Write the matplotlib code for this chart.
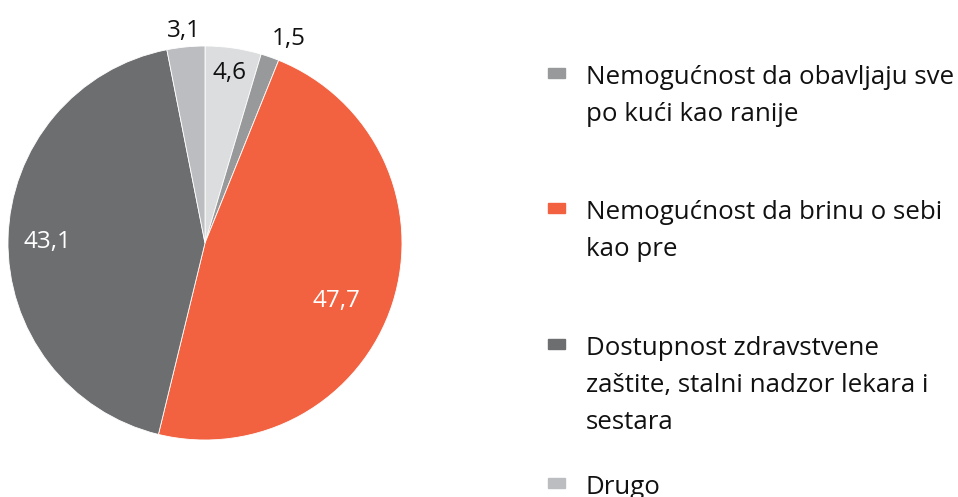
import numpy as np
import matplotlib
matplotlib.use("Agg")
import matplotlib.pyplot as plt
from matplotlib.patches import Rectangle

plt.rcParams['font.family'] = ['Open Sans', 'DejaVu Sans']

# data, clockwise from the top
values = [4.6, 1.5, 47.7, 43.1, 3.1]
value_labels = ['4,6', '1,5', '47,7', '43,1', '3,1']
colors = ['#dcdddf', '#98999b', '#f26241', '#6d6e70', '#bcbdc0']
text_colors = ['#111111', '#111111', 'white', 'white', '#111111']
# label radius and angle nudge (degrees) per slice
label_r = [0.87, 1.12, 0.73, 0.80, 1.08]
label_da = [0, -3, -6, 1, 0]

legend_labels = [
    'Nemogućnost da obavljaju sve\npo kući kao ranije',
    'Nemogućnost da brinu o sebi\nkao pre',
    'Dostupnost zdravstvene\nzaštite, stalni nadzor lekara i\nsestara',
    'Drugo',
]
legend_colors = ['#98999b', '#f26241', '#6d6e70', '#bcbdc0']

W, H = 958, 497
fig = plt.figure(figsize=(W / 100, H / 100), dpi=100)

cx, cy, R = 205, 243, 197
ax = fig.add_axes([(cx - R) / W, (H - cy - R) / H, 2 * R / W, 2 * R / H])
wedges, _ = ax.pie(values, colors=colors, startangle=90, counterclock=False,
                   radius=1, wedgeprops=dict(edgecolor='white', linewidth=0.6))
ax.set_xlim(-1, 1)
ax.set_ylim(-1, 1)
ax.set_aspect('equal')
ax.axis('off')

for w, lab, tc, r, da in zip(wedges, value_labels, text_colors, label_r, label_da):
    ang = np.deg2rad((w.theta1 + w.theta2) / 2 + da)
    ax.text(r * np.cos(ang), r * np.sin(ang), lab, color=tc, fontsize=17.5,
            ha='center', va='center', clip_on=False)

# legend, drawn by hand
entry_y = [76, 211, 347, 486]
for lab, col, y in zip(legend_labels, legend_colors, entry_y):
    fig.patches.append(Rectangle((548 / W, 1 - (y + 2) / H), 17 / W, 10 / H,
                                 transform=fig.transFigure, color=col))
    fig.text(586 / W, 1 - (y - 11) / H, lab, fontsize=18.6, va='top', ha='left',
             color='#111111', linespacing=1.62)

fig.savefig('out.png', dpi=100)
